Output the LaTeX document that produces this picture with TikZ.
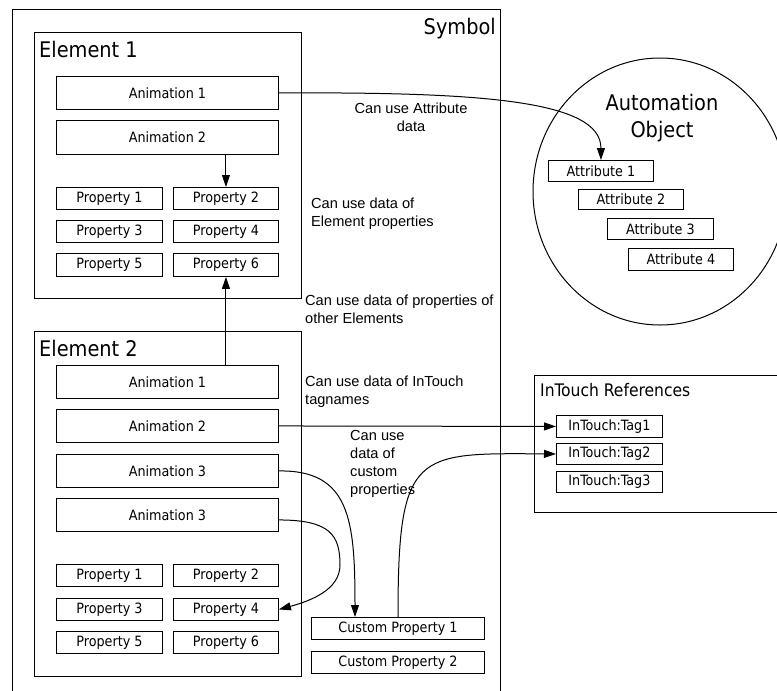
\documentclass[tikz,border=0pt]{standalone}
\usepackage{fontspec}
\setmainfont{Liberation Sans}
\newfontfamily\labelfont{DejaVu Sans Condensed}
\usetikzlibrary{arrows.meta,shapes.geometric}

\begin{document}
\begin{tikzpicture}[x=1pt,y=-1pt,
  frame/.style={draw=black,line width=1pt,anchor=north west,inner sep=0pt},
  box/.style={draw=black,line width=0.9pt,anchor=north west,inner sep=0pt,
    font=\labelfont\fontsize{14.2}{17}\selectfont},
  title/.style={inner sep=0pt,font=\labelfont\fontsize{21.5}{27}\selectfont},
  note/.style={inner sep=0pt,align=left,anchor=west,font=\fontsize{14.6}{18}\selectfont},
  arr/.style={line width=1pt,-{Triangle[length=12pt,width=8pt]}}
]
\useasboundingbox (0,0) rectangle (777,691);
\begin{scope}
\clip (0,0) rectangle (777,691);

% Symbol frame (runs off the bottom edge)
\draw[line width=1pt] (12,700) -- (12,9) -- (500,9) -- (500,700);
\node[title,anchor=base east] (symbol) at (496,34) {Symbol};

% Element 1
\node[frame,minimum width=267pt,minimum height=266pt] (el1) at (34,32) {};
\node[title,anchor=base west] (el1t) at (39,57) {Element 1};
\node[box,minimum width=222pt,minimum height=33pt] (e1a1) at (56,76) {Animation 1};
\node[box,minimum width=222pt,minimum height=34pt] (e1a2) at (56,120) {Animation 2};
\node[box,minimum width=106pt,minimum height=22pt] (e1p1) at (56,187) {Property 1};
\node[box,minimum width=105pt,minimum height=22pt] (e1p2) at (173,187) {Property 2};
\node[box,minimum width=106pt,minimum height=22pt] (e1p3) at (56,220) {Property 3};
\node[box,minimum width=105pt,minimum height=22pt] (e1p4) at (173,220) {Property 4};
\node[box,minimum width=106pt,minimum height=23pt] (e1p5) at (56,253) {Property 5};
\node[box,minimum width=105pt,minimum height=23pt] (e1p6) at (173,253) {Property 6};

% Element 2
\node[frame,minimum width=267pt,minimum height=345pt] (el2) at (34,331) {};
\node[title,anchor=base west] (el2t) at (39,356) {Element 2};
\node[box,minimum width=222pt,minimum height=33pt] (e2a1) at (56,365) {Animation 1};
\node[box,minimum width=222pt,minimum height=33pt] (e2a2) at (56,409) {Animation 2};
\node[box,minimum width=222pt,minimum height=33pt] (e2a3) at (56,454) {Animation 3};
\node[box,minimum width=222pt,minimum height=33pt] (e2a4) at (56,498) {Animation 3};
\node[box,minimum width=106pt,minimum height=22pt] (e2p1) at (56,564) {Property 1};
\node[box,minimum width=105pt,minimum height=22pt] (e2p2) at (173,564) {Property 2};
\node[box,minimum width=106pt,minimum height=22pt] (e2p3) at (56,598) {Property 3};
\node[box,minimum width=105pt,minimum height=22pt] (e2p4) at (173,598) {Property 4};
\node[box,minimum width=106pt,minimum height=22pt] (e2p5) at (56,631) {Property 5};
\node[box,minimum width=105pt,minimum height=22pt] (e2p6) at (173,631) {Property 6};

% Custom properties
\node[box,minimum width=173pt,minimum height=22pt] (cp1) at (311,617) {Custom Property 1};
\node[box,minimum width=173pt,minimum height=22pt] (cp2) at (311,651) {Custom Property 2};

% Automation Object
\node[draw=black,line width=1pt,ellipse,inner sep=0pt,minimum width=254pt,minimum height=267pt] (ao) at (660,191.5) {};
\node[title,align=center,anchor=base] (aot) at (662,137) {Automation\\Object};
\node[box,minimum width=105pt,minimum height=21pt] (at1) at (548,160) {Attribute 1};
\node[box,minimum width=105pt,minimum height=20pt] (at2) at (578,189) {Attribute 2};
\node[box,minimum width=106pt,minimum height=21pt] (at3) at (607,218) {Attribute 3};
\node[box,minimum width=105pt,minimum height=22pt] (at4) at (628,248) {Attribute 4};

% InTouch References (runs off the right edge)
\node[frame,minimum width=260pt,minimum height=137pt] (itr) at (534,375) {};
\node[inner sep=0pt,anchor=base west,font=\labelfont\fontsize{17.3}{21}\selectfont] (itrt) at (540,396) {InTouch References};
\node[box,minimum width=106pt,minimum height=22pt] (t1) at (556,415) {InTouch:Tag1};
\node[box,minimum width=106pt,minimum height=21pt] (t2) at (556,443) {InTouch:Tag2};
\node[box,minimum width=106pt,minimum height=21pt] (t3) at (556,471) {InTouch:Tag3};

% Notes
\node[note,align=center,anchor=center] (n1) at (411,117) {Can use Attribute\\data};
\node[note] (n2) at (311,214) {Can use data of\\Element properties};
\node[note] (n3) at (305,309) {Can use data of properties of\\other Elements};
\node[note] (n4) at (305,392) {Can use data of InTouch\\tagnames};
\node[note] (n5) at (350,464) {Can use\\data of\\custom\\properties};

% Connectors
\draw[arr] (e1a1.east) .. controls (480,92) and (601,100) .. (at1.north);
\draw[arr] (e1a2.south -| e1p2.north) -- (e1p2.north);
\draw[arr] (e2a1.north -| e1p6.south) -- (e1p6.south);
\draw[arr] (e2a2.east) -- (t1.west);
\draw[arr] (e2a3.east) .. controls (350,470) and (355,520) .. ([xshift=44pt]cp1.north west);
\draw[arr] ([yshift=-5pt]e2a4.east) .. controls (330,520) and (340,535) .. (340,565)
  .. controls (340,590) and (310,601) .. (e2p4.east);
\draw[arr] ([xshift=87pt]cp1.north west) .. controls (398,450) and (415,453) .. (t2.west);
\end{scope}
\end{tikzpicture}
\end{document}
